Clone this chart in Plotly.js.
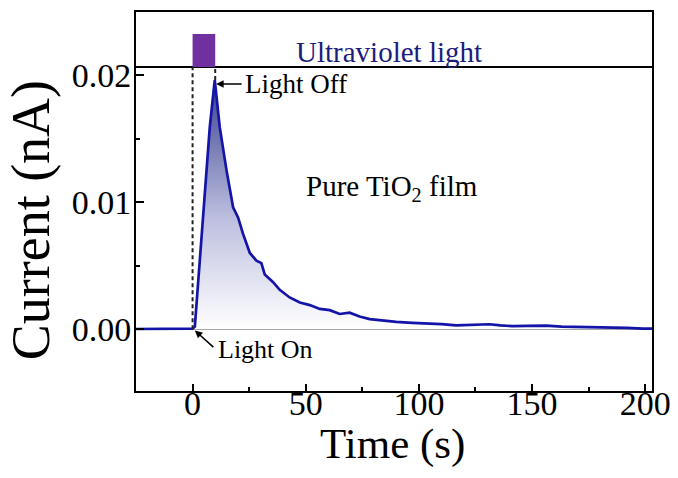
<!DOCTYPE html>
<html>
<head>
<meta charset="utf-8">
<script src="https://cdn.plot.ly/plotly-3.0.1.min.js"></script>
<style>
  html, body { margin: 0; padding: 0; background: #fff; }
  #chart { width: 678px; height: 478px; }
</style>
</head>
<body>
<div id="chart"></div>
<script>
// Photocurrent response of a pure TiO2 film under a 10 s UV pulse
const timeS = [-25, -20, -15, -10, -5, 0, 1, 3.2, 5.4, 7.6, 9.8, 12, 15, 17.9, 20.1, 22.3,
  25.3, 28.2, 30.4, 31.9, 35.6, 38.5, 42.9, 47.4, 51.8, 56.2, 60.6, 65, 69.4, 73.8, 78.3,
  82.7, 90, 97, 104.7, 110, 116.5, 124, 131.2, 136, 141.5, 148, 156.2, 163, 170.9, 178,
  185.6, 192, 199, 203];
const currentNA = [0.00002, 0.00003, 0.00005, 0.00006, 0.00004, 0.00005, 0.0002, 0.0054,
  0.0107, 0.0159, 0.0196, 0.0159, 0.0125, 0.0096, 0.0088, 0.0075, 0.0060, 0.0054, 0.0052,
  0.0043, 0.0037, 0.0031, 0.0025, 0.0021, 0.0019, 0.0016, 0.0015, 0.0012, 0.0013, 0.0010,
  0.0008, 0.0007, 0.00058, 0.0005, 0.00045, 0.0004, 0.00031, 0.00035, 0.00039, 0.0003,
  0.00024, 0.00026, 0.00029, 0.0002, 0.00018, 0.00016, 0.00013, 0.0001, 0.00005, 0.00005];

// UV exposure window (s)
const lightOn = 0;
const lightOff = 10;
const peakCurrent = 0.0196;

// axis ticks
const xTicks = [0, 50, 100, 150, 200];
const yTicks = [0, 0.01, 0.02];
const yTickText = ['0.00', '0.01', '0.02'];

const xRange = [-25, 203];
const yRange = [-0.00486, 0.02496];
const stripBase = 0.02063;   // divider between the plot and the light-indicator strip
const stripTop = 0.02323;

const serif = "'Liberation Serif', 'Times New Roman', Tinos, serif";

const trace = {
  x: timeS,
  y: currentNA,
  type: 'scatter',
  mode: 'lines',
  line: { color: '#1414a8', width: 2.7 },
  fill: 'tozeroy',
  fillgradient: {
    type: 'vertical',
    start: 0,
    stop: peakCurrent,
    colorscale: [[0, 'rgba(255,255,255,1)'], [0.45, '#bcbedf'], [1, '#3a408e']]
  },
  hoverinfo: 'skip'
};

const layout = {
  width: 678,
  height: 478,
  margin: { l: 136, r: 26, t: 12, b: 87 },
  paper_bgcolor: '#fff',
  plot_bgcolor: '#fff',
  showlegend: false,
  font: { family: serif, color: '#000' },
  xaxis: {
    range: xRange,
    tickvals: xTicks,
    ticks: 'inside',
    ticklen: 7,
    tickwidth: 2,
    tickcolor: '#000',
    minor: { dtick: 25, tick0: 0, ticks: 'inside', ticklen: 4, tickwidth: 2, tickcolor: '#000' },
    showline: true,
    linecolor: '#000',
    linewidth: 2,
    mirror: true,
    showgrid: false,
    zeroline: false,
    ticklabelstandoff: -19,
    tickfont: { family: serif, size: 34, color: '#000' }
  },
  yaxis: {
    range: yRange,
    tickvals: yTicks,
    ticktext: yTickText,
    ticks: 'inside',
    ticklen: 8,
    tickwidth: 2,
    tickcolor: '#000',
    minor: { dtick: 0.005, tick0: 0, ticks: 'inside', ticklen: 4, tickwidth: 2, tickcolor: '#000' },
    showline: true,
    linecolor: '#000',
    linewidth: 2,
    mirror: true,
    showgrid: false,
    zeroline: true,
    zerolinecolor: '#8a8a8a',
    zerolinewidth: 1.5,
    ticklabelstandoff: -4,
    tickfont: { family: serif, size: 34, color: '#000' }
  },
  shapes: [
    // divider line under the light strip
    { type: 'line', xref: 'paper', x0: 0, x1: 1, yref: 'y', y0: stripBase, y1: stripBase,
      line: { color: '#000', width: 2 } },
    // UV pulse block
    { type: 'rect', xref: 'x', x0: lightOn, x1: lightOff, yref: 'y', y0: stripBase, y1: stripTop,
      fillcolor: '#7030a0', line: { width: 0 } },
    // light-on marker
    { type: 'line', xref: 'x', x0: lightOn, x1: lightOn, yref: 'y', y0: 0, y1: stripBase,
      line: { color: '#222', width: 2, dash: '4px,3px' } },
    // light-off marker
    { type: 'line', xref: 'x', x0: lightOff, x1: lightOff, yref: 'y', y0: peakCurrent, y1: stripBase,
      line: { color: '#222', width: 2, dash: '4px,3px' } }
  ],
  annotations: [
    { text: 'Time (s)', xref: 'paper', yref: 'paper', x: 0.497, y: -0.14,
      xanchor: 'center', yanchor: 'middle', showarrow: false,
      font: { family: serif, size: 43, color: '#000' } },
    { text: 'Current (nA)', xref: 'paper', yref: 'paper', x: -0.203, y: 0.451,
      xanchor: 'center', yanchor: 'middle', textangle: -90, showarrow: false,
      font: { family: serif, size: 54, color: '#000' } },
    { text: 'Ultraviolet light', xref: 'x', yref: 'y', x: 87, y: 0.0218,
      xanchor: 'center', yanchor: 'middle', showarrow: false,
      font: { family: serif, size: 29, color: '#1c1c7c' } },
    { text: 'Pure TiO<sub>2</sub> film', xref: 'x', yref: 'y', x: 88, y: 0.0111,
      xanchor: 'center', yanchor: 'middle', showarrow: false,
      font: { family: serif, size: 29, color: '#000' } },
    // Light Off arrow and label
    { text: '', xref: 'x', yref: 'y', x: 10.4, y: 0.0193, ax: 27, ay: 0,
      showarrow: true, arrowhead: 2, arrowsize: 1, arrowwidth: 1.5, arrowcolor: '#000' },
    { text: 'Light Off', xref: 'x', yref: 'y', x: 22.4, y: 0.0193,
      xanchor: 'left', yanchor: 'middle', showarrow: false,
      font: { family: serif, size: 27, color: '#000' } },
    // Light On arrow and label
    { text: '', xref: 'x', yref: 'y', x: 1, y: -0.0001, ax: 20, ay: 18,
      showarrow: true, arrowhead: 2, arrowsize: 1, arrowwidth: 1.5, arrowcolor: '#000' },
    { text: 'Light On', xref: 'x', yref: 'y', x: 10.5, y: -0.0016,
      xanchor: 'left', yanchor: 'middle', showarrow: false,
      font: { family: serif, size: 26, color: '#000' } }
  ]
};

Plotly.newPlot('chart', [trace], layout, { displayModeBar: false, staticPlot: true });
</script>
</body>
</html>
